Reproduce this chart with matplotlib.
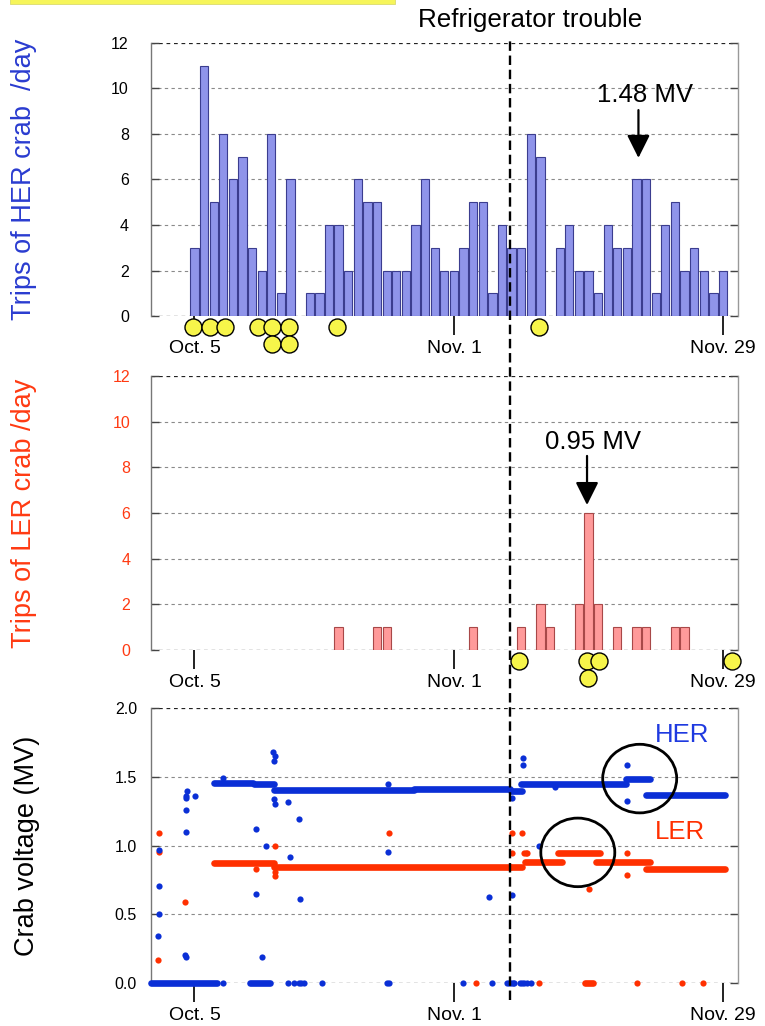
import matplotlib
matplotlib.use('Agg')
import matplotlib.pyplot as plt
from matplotlib.patches import Ellipse, Rectangle
from matplotlib.lines import Line2D
from matplotlib.transforms import blended_transform_factory

plt.rcParams['font.family'] = ['Liberation Sans', 'DejaVu Sans']

# ---------------- data (day numbers counted as day-of-October: Nov 1 = 32, Nov 29 = 60)
tick_days = [5, 32, 60]
tick_labels = ['Oct. 5', 'Nov. 1', 'Nov. 29']

her_days = list(range(5, 61))
her_trips = [3, 11, 5, 8, 6, 7, 3, 2, 8, 1, 6, 0,
             1, 1, 4, 4, 2, 6, 5, 5, 2, 2, 2, 4, 6, 3, 2, 2,
             3, 5, 5, 1, 4, 3, 3, 8, 7, 0,
             3, 4, 2, 2, 1, 4, 3, 3, 6, 6, 1, 4, 5, 2, 3, 2, 1, 2]

ler_days = [20, 24, 25, 34, 39, 41, 42, 45, 46, 47, 49, 51, 52, 55, 56]
ler_trips = [1, 1, 1, 1, 1, 2, 1, 2, 6, 2, 1, 1, 1, 1, 1]

her_event_day = [4.81, 6.64, 8.2, 11.64, 13.03, 14.83, 19.82, 40.83, 13.03, 14.83]
her_event_row = [0, 0, 0, 0, 0, 0, 0, 0, 1, 1]
ler_event_day = [38.78, 45.89, 47.07, 60.97, 45.96]
ler_event_row = [0, 0, 0, 0, 1]

trouble_day = 37.8

# crab voltage plateaus (start day, end day, voltage)
her_seg_start = [0.5, 10.8, 7.05, 11.2, 13.3, 27.8, 37.9, 39.0, 49.95, 52.0]
her_seg_end = [7.3, 12.9, 11.1, 13.3, 27.8, 37.8, 39.1, 49.95, 52.4, 60.2]
her_seg_level = [0.0, 0.0, 1.453, 1.445, 1.404, 1.414, 1.40, 1.448, 1.482, 1.366]

ler_seg_start = [7.0, 13.3, 37.8, 39.4, 42.8, 46.8, 52.0, 45.6]
ler_seg_end = [13.3, 37.8, 39.1, 43.2, 47.2, 52.4, 60.2, 46.5]
ler_seg_level = [0.875, 0.846, 0.846, 0.877, 0.947, 0.877, 0.829, 0.0]

# isolated crab voltage readings
her_pt_day = [1.26, 1.26, 1.3, 1.2, 4.1, 4.1, 4.15, 4.15, 4.2, 5.07, 4.05, 4.1,
              8.0, 8.0, 11.4, 11.4, 12.0, 12.42, 13.15, 13.39, 13.25, 13.3, 13.39,
              14.78, 14.95, 15.9, 16.0, 14.7, 15.4, 15.9, 16.1, 16.4, 18.3,
              25.0, 25.2, 25.17, 25.17, 35.63, 37.99, 38.0, 39.17, 39.2, 40.87,
              42.5, 50.0, 50.05, 32.97, 36.0, 37.5, 37.7, 37.9, 38.1, 38.3,
              38.9, 39.1, 39.3, 39.6, 40.0]
her_pt_volt = [0.967, 0.707, 0.50, 0.34, 1.098, 1.256, 1.344, 1.361, 1.397, 1.361, 0.20, 0.185,
               1.494, 0.0, 1.12, 0.644, 0.19, 1.0, 1.684, 1.655, 1.618, 1.339, 1.30,
               1.32, 0.918, 1.193, 0.608, 0.0, 0.0, 0.0, 0.0, 0.0, 0.0,
               0.0, 0.0, 1.446, 0.95, 0.625, 0.642, 1.349, 1.64, 1.587, 1.0,
               1.43, 1.584, 1.322, 0.0, 0.0, 0.0, 0.0, 0.0, 0.0, 0.0,
               0.0, 0.0, 0.0, 0.0, 0.0]

ler_pt_day = [1.3, 1.3, 1.2, 4.03, 11.4, 13.36, 13.35, 13.39, 25.2, 38.0, 39.1, 38.0,
              39.3, 39.45, 39.6, 46.06, 50.0, 50.05, 34.28, 40.86, 51.1, 55.7, 57.9]
ler_pt_volt = [1.093, 0.952, 0.165, 0.586, 0.829, 0.999, 0.81, 0.78, 1.093, 1.089, 1.089, 0.943,
               0.947, 0.947, 0.947, 0.68, 0.947, 0.785, 0.0, 0.0, 0.0, 0.0, 0.0]

# ---------------- styling
BLUE_TXT = '#2a3cd0'
RED_TXT = '#ff3a12'
BLUE_DOT = '#0a2fd6'
RED_DOT = '#ff3000'
XLIM = (0.476, 61.56)

fig = plt.figure(figsize=(7.65, 10.26), dpi=100)

ax1 = fig.add_axes([0.1974, 0.6920, 0.7673, 0.2661])
ax2 = fig.add_axes([0.1974, 0.3665, 0.7673, 0.2670])
ax3 = fig.add_axes([0.1974, 0.0422, 0.7673, 0.2674])


def style_axes(ax, yticks, ylabels, tick_color, label_pad):
    ax.set_xlim(*XLIM)
    ax.set_ylim(yticks[0], yticks[-1])
    for s in ('top', 'bottom'):
        ax.spines[s].set_visible(False)
    ax.spines['left'].set_color('#777777')
    ax.spines['right'].set_color('#999999')
    ax.spines['left'].set_linewidth(1.0)
    ax.spines['right'].set_linewidth(1.0)
    for i, y in enumerate(yticks):
        edge = (i == 0 or i == len(yticks) - 1)
        ax.axhline(y, color='#222222' if edge else '#8a8a8a', lw=0.9 if edge else 0.8,
                   linestyle=(0, (3, 3)), zorder=0.5)
    ax.set_yticks(yticks)
    ax.set_yticklabels(ylabels)
    ax.tick_params(axis='y', direction='in', length=6, width=1.0, color='#444444',
                   left=True, right=True, labelsize=11.5, labelcolor=tick_color, pad=label_pad)
    ax.set_xticks(tick_days)
    ax.set_xticklabels(tick_labels)
    ax.tick_params(axis='x', direction='out', length=14, width=1.3, color='#111111',
                   labelsize=14, pad=3.5)


style_axes(ax1, list(range(0, 13, 2)), [str(v) for v in range(0, 13, 2)], 'black', 16)
style_axes(ax2, list(range(0, 13, 2)), [str(v) for v in range(0, 13, 2)], RED_TXT, 15)
style_axes(ax3, [0.0, 0.5, 1.0, 1.5, 2.0], ['0.0', '0.5', '1.0', '1.5', '2.0'], 'black', 10)

# ---- HER bars
hd = [d for d, v in zip(her_days, her_trips) if v > 0]
hv = [v for v in her_trips if v > 0]
ax1.bar(hd, hv, width=0.86, color='#8f94ea', edgecolor='#3b3d8f', linewidth=0.8, zorder=2)
ax1.set_ylabel('Trips of HER crab  /day', fontsize=19.5, color=BLUE_TXT)
ax1.yaxis.set_label_coords(-0.194, 0.5)

# ---- LER bars
ax2.bar(ler_days, ler_trips, width=0.86, color='#ff9a9a', edgecolor='#a84848', linewidth=0.8, zorder=2)
ax2.set_ylabel('Trips of LER crab /day', fontsize=19.5, color=RED_TXT)
ax2.yaxis.set_label_coords(-0.194, 0.5)

# ---- event circles
for ax, ed, er in ((ax1, her_event_day, her_event_row), (ax2, ler_event_day, ler_event_row)):
    ys = [-0.47 - 0.76 * r for r in er]
    ax.scatter(ed, ys, s=150, facecolor='#f7f54a', edgecolor='black', linewidth=1.0,
               zorder=5, clip_on=False)

# ---- annotations with arrows
ax1.text(51.85, 9.72, '1.48 MV', fontsize=18.5, ha='center', va='center')
ax1.annotate('', xy=(51.2, 6.95), xytext=(51.2, 9.05),
             arrowprops=dict(arrowstyle='-|>,head_length=0.7,head_width=0.35',
                             lw=1.6, color='black', mutation_scale=20, shrinkA=0, shrinkB=0))
ax2.text(46.45, 9.12, '0.95 MV', fontsize=18.5, ha='center', va='center')
ax2.annotate('', xy=(45.85, 6.35), xytext=(45.85, 8.5),
             arrowprops=dict(arrowstyle='-|>,head_length=0.7,head_width=0.35',
                             lw=1.6, color='black', mutation_scale=20, shrinkA=0, shrinkB=0))

# ---- crab voltage
for s, e, v in zip(ler_seg_start, ler_seg_end, ler_seg_level):
    ax3.plot([s, e], [v, v], color=RED_DOT, lw=4.8, solid_capstyle='round', zorder=3, clip_on=False)
ax3.scatter(ler_pt_day, ler_pt_volt, s=20, color=RED_DOT, linewidths=0, zorder=3, clip_on=False)
for s, e, v in zip(her_seg_start, her_seg_end, her_seg_level):
    ax3.plot([s, e], [v, v], color=BLUE_DOT, lw=4.8, solid_capstyle='round', zorder=4, clip_on=False)
ax3.scatter(her_pt_day, her_pt_volt, s=20, color=BLUE_DOT, linewidths=0, zorder=4, clip_on=False)

ax3.set_ylabel('Crab voltage (MV)', fontsize=19.5, color='black')
ax3.yaxis.set_label_coords(-0.189, 0.5)
ax3.text(55.7, 1.805, 'HER', fontsize=18.5, color='#1f3ae0', ha='center', va='center')
ax3.text(55.5, 1.098, 'LER', fontsize=18.5, color=RED_DOT, ha='center', va='center')
ax3.add_patch(Ellipse((51.33, 1.488), 7.7, 0.50, fill=False, edgecolor='black', lw=2.0, zorder=6))
ax3.add_patch(Ellipse((44.89, 0.950), 7.7, 0.50, fill=False, edgecolor='black', lw=2.0, zorder=6))

# ---- refrigerator trouble marker across all panels
tr = blended_transform_factory(ax3.transData, fig.transFigure)
fig.add_artist(Line2D([trouble_day, trouble_day], [0.0254, 0.964], transform=tr,
                      color='black', lw=1.7, linestyle=(0, (4, 2)), zorder=10))
fig.text(0.693, 0.9805, 'Refrigerator trouble', fontsize=18.7, ha='center', va='center')

# ---- yellow strip at very top
fig.add_artist(Rectangle((0.013, 0.9961), 0.503, 0.0045, transform=fig.transFigure,
                         facecolor='#f6f55a', edgecolor='#dada70', lw=0.6))

fig.savefig('out.png', dpi=100)
